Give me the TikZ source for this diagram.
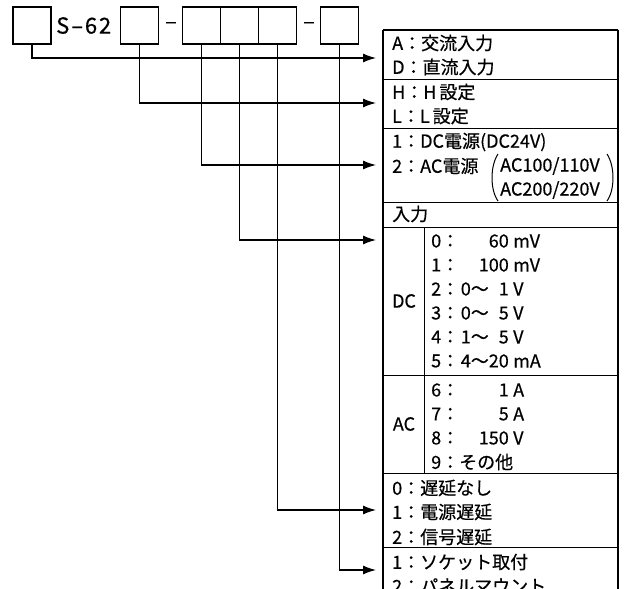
\documentclass[tikz,border=0pt]{standalone}
\usepackage{fontspec}
\setmainfont{Noto Sans CJK JP}[FakeBold=0.5]
\usetikzlibrary{arrows.meta,positioning}

\tikzset{
  code/.style={draw,line width=1.4pt,minimum width=38pt,minimum height=37pt,inner sep=0pt},
  item/.style={anchor=west,inner sep=0pt,font=\fontsize{18}{20}\selectfont},
  head/.style={inner sep=0pt,font=\fontsize{22}{24}\selectfont\addfontfeature{LetterSpace=8}},
  feed/.style={line width=1.2pt,-{Latex[length=13pt,width=9pt]}},
  rule/.style={line width=1pt},
}

\begin{document}
\begin{tikzpicture}[x=1pt,y=-1pt]
\useasboundingbox (0,0) rectangle (625,589);
\clip (0,0) rectangle (625,589);

% model code
\node[code] (c1) at (32,25.5) {};
\node[head,anchor=west] (name) at (56,25.5) {S–62};
\node[code] (c2) at (139.5,25.5) {};
\node[head] (d1) at (171,25.5) {–};
\node[code] (c3) at (201.5,25.5) {};
\node[code] (c4) at (239.5,25.5) {};
\node[code] (c5) at (277.5,25.5) {};
\node[head] (d2) at (309,25.5) {–};
\node[code] (c6) at (339.5,25.5) {};

% table frame
\draw[line width=1.4pt] (383,30) -- (618,30);
\draw[line width=1.4pt] (383,30) -- (383,600);
\draw[line width=1.4pt] (618,30) -- (618,600);
\foreach \y in {79,128,202,227,375,473,547}
  \draw[rule] (383,\y) -- (618,\y);
\draw[rule] (424,227) -- (424,473);

% arrow targets
\coordinate (t1) at (376,58);
\coordinate (t2) at (376,103);
\coordinate (t3) at (376,165);
\coordinate (t4) at (376,240);
\coordinate (t5) at (376,510);
\coordinate (t6) at (376,570);
\draw[feed] (c1.south) |- (t1);
\draw[feed] (c2.south) |- (t2);
\draw[feed] (c3.south) |- (t3);
\draw[feed] (c4.south) |- (t4);
\draw[feed] (c5.south) |- (t5);
\draw[feed] (c6.south) |- (t6);

% rows
\node[item] (rA) at (392,43) {A：交流入力};
\node[item] (rD) at (392,67) {D：直流入力};
\node[item] (rH) at (392,92) {H：H\,設定};
\node[item] (rL) at (392,116) {L：L\,設定};
\node[item] (p1) at (392,142) {1：DC電源(DC24V)};
\node[item] (p2) at (392,166) {2：AC電源};
\node[item] (ac1) at (500,166) {AC100/110V};
\node[item] (ac2) at (500,190) {AC200/220V};
\draw[line width=1pt] (498,154) .. controls (490,166) and (490,190) .. (498,201);
\draw[line width=1pt] (607,154) .. controls (615,166) and (615,190) .. (607,201);
\node[item] (inp) at (392,214) {入力};

\node[item,anchor=center] (dc) at (404,301) {DC};
\node[item,anchor=center] (ac) at (404,424) {AC};
\foreach \n/\v/\u/\y in {0/60/mV/241, 1/100/mV/265, 2/{0～\phantom{2}1}/V/289,
    3/{0～\phantom{2}5}/V/313, 4/{1～\phantom{2}5}/V/337, 5/{4～20}/mA/361,
    6/1/A/390, 7/5/A/414, 8/150/V/438} {
  \node[item] (k\n) at (431,\y) {\n：};
  \node[item,anchor=east] (v\n) at (509,\y) {\v};
  \node[item] (u\n) at (513,\y) {\u};
}
\node[item] (k9) at (431,462) {9：その他};

\node[item] (s0) at (392,488) {0：遅延なし};
\node[item] (s1) at (392,512) {1：電源遅延};
\node[item] (s2) at (392,537) {2：信号遅延};
\node[item] (m1) at (392,562) {1：ソケット取付};
\node[item] (m2) at (392,586) {2：パネルマウント};
\end{tikzpicture}
\end{document}
